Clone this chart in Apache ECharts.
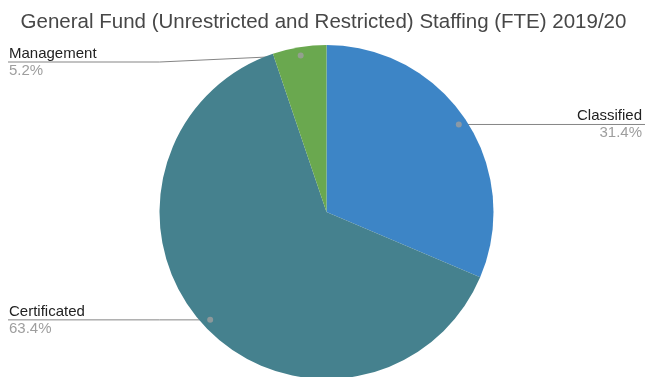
<!DOCTYPE html>
<html>
<head>
<meta charset="utf-8">
<script src="https://cdn.jsdelivr.net/npm/echarts@6/dist/echarts.min.js"></script>
<style>
  html, body { margin: 0; padding: 0; background: #fff; }
  #chart { width: 647px; height: 377px; }
</style>
</head>
<body>
<div id="chart"></div>
<script>
// Staffing split by employee group, in percent of FTE
const categories = ['Classified', 'Certificated', 'Management'];
const shares = [31.4, 63.4, 5.2];
const sliceColors = ['#3d85c6', '#45818e', '#6aa84f'];
const titleText = 'General Fund (Unrestricted and Restricted) Staffing (FTE) 2019/20';

// Layout constants
const CX = 326.5, CY = 212, R = 167;
const DOT_RATIO = 0.95;        // leader dots sit just inside the rim
const LABEL_MIN_Y = 62;        // keep labels clear of the title
const EDGE_L = 8, EDGE_R = 645;
const FONT = '"Liberation Sans", Arial, Helvetica, sans-serif';

// Middle of each slice, as a percentage of the full turn
const total = shares.reduce((a, b) => a + b, 0);
const mids = [];
let acc = 0;
shares.forEach(v => { mids.push((acc + v / 2) / total * 100); acc += v; });

function dotPos(i) {
  const a = mids[i] / 100 * 2 * Math.PI;
  return [CX + R * DOT_RATIO * Math.sin(a), CY - R * DOT_RATIO * Math.cos(a)];
}

const chart = echarts.init(document.getElementById('chart'), null, { renderer: 'canvas' });

chart.setOption({
  animation: false,
  backgroundColor: '#ffffff',
  title: {
    text: titleText,
    left: 'center',
    top: 7,
    textStyle: { fontFamily: FONT, fontSize: 20.5, fontWeight: 'normal', color: '#474747' }
  },
  polar: { center: [CX, CY], radius: R },
  angleAxis: { type: 'value', min: 0, max: 100, startAngle: 90, clockwise: true, show: false },
  radiusAxis: { type: 'value', min: 0, max: 1, show: false },
  series: [
    {
      type: 'pie',
      center: [CX, CY],
      radius: R,
      startAngle: 90,
      clockwise: true,
      silent: true,
      avoidLabelOverlap: false,
      data: categories.map((n, i) => ({ name: n, value: shares[i], itemStyle: { color: sliceColors[i] } })),
      label: {
        show: true,
        formatter: p => `{n|${p.name}}\n{p|${p.value.toFixed(1)}%}`,
        rich: {
          n: { fontFamily: FONT, fontSize: 15, color: '#222222', lineHeight: 17 },
          p: { fontFamily: FONT, fontSize: 15, color: '#9e9e9e', lineHeight: 17 }
        }
      },
      labelLine: { show: true, lineStyle: { color: '#858585', width: 1 } },
      labelLayout: function (params) {
        const i = params.dataIndex;
        const d = dotPos(i);
        const right = d[0] > CX;
        const ly = Math.max(d[1], LABEL_MIN_Y);
        let pts;
        if (right) {
          pts = [[d[0], d[1]], [d[0], ly], [EDGE_R, ly]];
        } else {
          const knee = Math.min(d[0], CX - R);
          pts = [[d[0], d[1]], [knee, ly], [EDGE_L, ly]];
        }
        return {
          x: right ? EDGE_R - 3 : EDGE_L + 1,
          y: ly,
          align: right ? 'right' : 'left',
          verticalAlign: 'middle',
          labelLinePoints: pts
        };
      }
    },
    {
      type: 'scatter',
      coordinateSystem: 'polar',
      silent: true,
      symbol: 'circle',
      symbolSize: 6,
      itemStyle: { color: '#9e9e9e' },
      data: mids.map(m => [DOT_RATIO, m])
    }
  ]
});
</script>
</body>
</html>
